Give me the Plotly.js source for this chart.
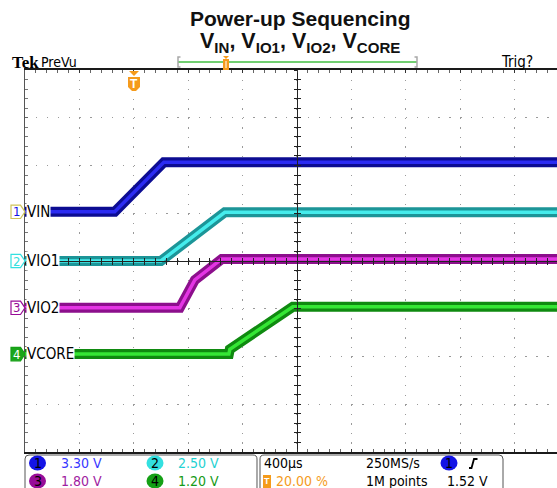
<!DOCTYPE html>
<html><head><meta charset="utf-8">
<script src="https://cdn.plot.ly/plotly-3.0.1.min.js"></script>
<style>html,body{margin:0;padding:0;background:#fff}#chart{width:557px;height:488px}</style>
</head><body><div id="chart"></div>
<script>
// ---- data (time in µs, trigger at t = 0; values in volts) ----
const timeVIN   = [-800, -140, 221, 3200];
const voltVIN   = [0, 0, 3.42, 3.42];
const timeVIO1  = [-800, 199, 669, 3200];
const voltVIO1  = [0, 0, 2.55, 2.55];
const timeVIO2  = [-800, 338, 449, 647, 3200];
const voltVIO2  = [0, 0, 1.05, 1.84, 1.84];
const timeVCORE = [-800, 699, 706, 1169, 3200];
const voltVCORE = [0, 0, 0.12, 1.19, 1.19];

const channelNames = ['VIN', 'VIO1', 'VIO2', 'VCORE'];
const channelNums  = ['1', '2', '3', '4'];
const voltsPerDiv  = [3.30, 2.50, 1.80, 1.20];
const scaleLabels  = ['3.30 V', '2.50 V', '1.80 V', '1.20 V'];
const positionDiv  = [1.03, 0, -0.98, -1.95];
const timePerDiv   = 400;           // µs/div
const triggerPct   = 20.00;         // %
const timeLabel    = '400µs';
const rateLabel    = '250MS/s';
const pointsLabel  = '1M points';
const trigLevel    = '1.52 V';
const triggerText  = '20.00 %';

// ---- styles ----
const outerCol = ['#0c0c92', '#1c9598', '#8c0f8c', '#0f8a10'];
const innerCol = ['#2b2bf2', '#45ecec', '#e435e4', '#35e635'];
const textCol  = ['#3838ff', '#1fd2d2', '#a01ca0', '#169a16'];
const dotCol   = ['#1414e6', '#33e0e0', '#980c98', '#15a015'];
const ORANGE = '#f59b1c';
const NARROW = '"Liberation Sans Narrow","Arial Narrow","DejaVu Sans Condensed",sans-serif';
const SANS = '"Liberation Sans",Arial,sans-serif';

const series = [[timeVIN, voltVIN], [timeVIO1, voltVIO1], [timeVIO2, voltVIO2], [timeVCORE, voltVCORE]];

// plot area in pixels
const L = 25, T = 70, W = 532, H = 382;
const px = x => (x - L) / W;
const py = y => (T + H - y) / H;
const divs = 10, vdivs = 8;
const xStart = -triggerPct / 100 * divs * timePerDiv;          // -800
const xRange = [xStart, xStart + W / 54.4 * timePerDiv];
const xCenter = xStart + divs / 2 * timePerDiv;

const traces = [];
traces.push({x: [], y: [], xaxis: 'x', yaxis: 'y', type: 'scatter', mode: 'lines', hoverinfo: 'skip', showlegend: false});
series.forEach((s, i) => {
  const ya = 'y' + (i + 2);
  traces.push({x: s[0], y: s[1], xaxis: 'x', yaxis: ya, type: 'scatter', mode: 'lines',
    line: {color: outerCol[i], width: 10}, hoverinfo: 'skip', showlegend: false});
  traces.push({x: s[0], y: s[1], xaxis: 'x', yaxis: ya, type: 'scatter', mode: 'lines',
    line: {color: innerCol[i], width: 3.5}, hoverinfo: 'skip', showlegend: false});
});
// empty traces so the crosshair axes get drawn
[['x2', 'y'], ['x3', 'y'], ['x', 'y6'], ['x', 'y7']].forEach(p =>
  traces.push({x: [], y: [], xaxis: p[0], yaxis: p[1], type: 'scatter', mode: 'lines', hoverinfo: 'skip', showlegend: false}));

const layout = {
  width: 557, height: 488,
  margin: {l: L, r: 0, t: T, b: 488 - T - H, pad: 0},
  paper_bgcolor: '#ffffff', plot_bgcolor: '#ffffff',
  showlegend: false,
  font: {family: NARROW, size: 14, color: '#000'},
  xaxis: {range: xRange, autorange: false, fixedrange: true, zeroline: false,
    showgrid: true, gridcolor: '#9a9a9a', gridwidth: 1.3, griddash: '1.3px,8.25px',
    tick0: xStart, dtick: timePerDiv, ticks: 'inside', ticklen: 3, tickcolor: '#333', tickwidth: 1,
    minor: {dtick: timePerDiv / 5, tick0: xStart, ticks: 'inside', ticklen: 3, tickcolor: '#666', showgrid: false},
    showticklabels: false, showline: true, linecolor: '#1a1a1a', linewidth: 2, mirror: 'ticks'},
  yaxis: {range: [-vdivs / 2, vdivs / 2], autorange: false, fixedrange: true, zeroline: false,
    showgrid: true, gridcolor: '#9a9a9a', gridwidth: 1.3, griddash: '1.3px,9.58px',
    tick0: 0, dtick: 1, ticks: 'inside', ticklen: 3, tickcolor: '#666',
    minor: {dtick: 0.2, ticks: 'inside', ticklen: 3, tickcolor: '#777', showgrid: false},
    showticklabels: false, showline: true, linecolor: '#555', linewidth: 1.5, mirror: false},
  xaxis2: {overlaying: 'x', anchor: 'free', position: 0.5, range: xRange, autorange: false,
    showgrid: false, zeroline: false, showticklabels: false, showline: true, linecolor: '#222', linewidth: 1,
    tick0: xStart, dtick: timePerDiv / 5, ticks: 'inside', ticklen: 3, tickcolor: '#222', layer: 'above traces'},
  xaxis3: {overlaying: 'x', anchor: 'free', position: 0.5, range: xRange, autorange: false,
    showgrid: false, zeroline: false, showticklabels: false, showline: false,
    tick0: xStart, dtick: timePerDiv / 5, ticks: 'outside', ticklen: 3, tickcolor: '#222', layer: 'above traces'},
  yaxis6: {overlaying: 'y', anchor: 'free', position: (xCenter - xRange[0]) / (xRange[1] - xRange[0]),
    range: [-vdivs / 2, vdivs / 2], autorange: false, showgrid: false, zeroline: false, showticklabels: false,
    showline: true, linecolor: '#222', linewidth: 1, tick0: 0, dtick: 0.2, ticks: 'inside', ticklen: 3,
    tickcolor: '#222', layer: 'above traces'},
  yaxis7: {overlaying: 'y', anchor: 'free', position: (xCenter - xRange[0]) / (xRange[1] - xRange[0]),
    range: [-vdivs / 2, vdivs / 2], autorange: false, showgrid: false, zeroline: false, showticklabels: false,
    showline: false, tick0: 0, dtick: 0.2, ticks: 'outside', ticklen: 3, tickcolor: '#222', layer: 'above traces'},
  shapes: [], annotations: []
};
// per-channel voltage axes (volts/div and position)
for (let i = 0; i < 4; i++) {
  layout['yaxis' + (i + 2)] = {overlaying: 'y', visible: false, autorange: false, fixedrange: true,
    range: [(-vdivs / 2 - positionDiv[i]) * voltsPerDiv[i], (vdivs / 2 - positionDiv[i]) * voltsPerDiv[i]]};
}

const S = layout.shapes, A = layout.annotations;
const pathPx = pts => pts.map((p, k) => (k ? 'L' : 'M') + px(p[0]).toFixed(5) + ',' + py(p[1]).toFixed(5)).join(' ');
const note = (x, y, text, font, anchor, extra) => A.push(Object.assign({xref: 'paper', yref: 'paper', x: px(x), y: py(y),
  xanchor: anchor || 'left', yanchor: 'middle', showarrow: false, text: text, font: font}, extra || {}));

// title
note(300, 18.5, '<b>Power-up Sequencing</b>', {family: SANS, size: 21, color: '#111'}, 'center');
note(300, 43, '<b>V<sub>IN</sub>, V<sub>IO1</sub>, V<sub>IO2</sub>, V<sub>CORE</sub></b>', {family: SANS, size: 21.5, color: '#111'}, 'center');

// header line
note(10, 62.5, '<b>Tek</b>', {family: '"Liberation Serif","Times New Roman",serif', size: 17, color: '#000'});
note(39, 62, 'PreVu', {family: NARROW, size: 14, color: '#000'});
note(499, 62, 'Trig?', {family: NARROW, size: 15, color: '#000'});
// record bar
S.push({type: 'line', xref: 'paper', yref: 'paper', x0: px(178), x1: px(417), y0: py(62), y1: py(62), line: {color: '#72cf72', width: 2}});
S.push({type: 'path', xref: 'paper', yref: 'paper', path: pathPx([[180.5, 57], [178, 57], [178, 67], [180.5, 67]]), line: {color: '#a8a8a8', width: 1.5}});
S.push({type: 'path', xref: 'paper', yref: 'paper', path: pathPx([[414.5, 57], [417, 57], [417, 67], [414.5, 67]]), line: {color: '#a8a8a8', width: 1.5}});
S.push({type: 'path', xref: 'paper', yref: 'paper', path: pathPx([[223, 56], [229, 56], [226, 59]]) + ' Z', fillcolor: ORANGE, line: {width: 0}});
S.push({type: 'rect', xref: 'paper', yref: 'paper', x0: px(223), x1: px(229), y0: py(59), y1: py(70), fillcolor: ORANGE, line: {width: 0}});
S.push({type: 'line', xref: 'paper', yref: 'paper', x0: px(226), x1: px(226), y0: py(61), y1: py(68), line: {color: '#fff', width: 1}});

// trigger position marker
S.push({type: 'path', xref: 'paper', yref: 'paper', path: pathPx([[129, 71], [139, 71], [134, 76]]) + ' Z', fillcolor: ORANGE, line: {width: 0}});
S.push({type: 'path', xref: 'paper', yref: 'paper',
  path: pathPx([[128, 77], [140, 77], [140, 87], [136, 91], [132, 91], [128, 87]]) + ' Z', fillcolor: ORANGE, line: {width: 0}});
note(134, 84, '<b>T</b>', {family: SANS, size: 12, color: '#fff'}, 'center');

// channel markers & labels
for (let i = 0; i < 4; i++) {
  const yp = positionDiv[i];
  const d = 0.14, x1 = px(11), x2 = px(20.5), x3 = px(25);
  S.push({type: 'path', xref: 'paper', yref: 'y',
    path: `M${x1},${yp - d} L${x2},${yp - d} L${x3},${yp} L${x2},${yp + d} L${x1},${yp + d} Z`,
    fillcolor: i === 3 ? '#1aa51a' : '#ffffff', line: {color: i === 0 ? '#cfc35a' : dotCol[i], width: 1.2}});
  A.push({xref: 'paper', yref: 'y', x: px(16.5), y: yp, xanchor: 'center', yanchor: 'middle', showarrow: false,
    text: channelNums[i], font: {family: NARROW, size: 13, color: i === 3 ? '#ffffff' : dotCol[i]}});
  A.push({xref: 'paper', yref: 'y', x: px(26), y: yp, xanchor: 'left', yanchor: 'middle', showarrow: false,
    text: channelNames[i], bgcolor: '#ffffff', borderpad: 0, font: {family: NARROW, size: 15, color: '#000'}});
}

// bottom panels
const panel = (a, b) => pathPx([[a, 492], [a, 459]]) + ` Q${px(a)},${py(455)} ${px(a + 4)},${py(455)} ` +
  pathPx([[b - 4, 455]]).replace('M', 'L') + ` Q${px(b)},${py(455)} ${px(b)},${py(459)} ` + pathPx([[b, 492]]).replace('M', 'L');
S.push({type: 'path', xref: 'paper', yref: 'paper', path: panel(25, 257), line: {color: '#555', width: 1}});
S.push({type: 'path', xref: 'paper', yref: 'paper', path: panel(260, 503), line: {color: '#555', width: 1}});

const rowY = [463, 481];
const colX = [[37.5, 59], [155, 176]];
for (let i = 0; i < 4; i++) {
  const row = (i === 0 || i === 1) ? 0 : 1;
  const col = (i === 0 || i === 2) ? 0 : 1;
  const cx = colX[col][0], cy = rowY[row];
  S.push({type: 'circle', xref: 'paper', yref: 'paper', x0: px(cx - 8.5), x1: px(cx + 8.5), y0: py(cy - 7.5), y1: py(cy + 7.5),
    fillcolor: dotCol[i], line: {width: 0}});
  note(cx, cy, channelNums[i], {family: NARROW, size: 14, color: '#000'}, 'center');
  note(colX[col][1], cy, scaleLabels[i], {family: NARROW, size: 14, color: textCol[i]});
}
note(262, 463, timeLabel, {family: NARROW, size: 14, color: '#000'});
note(364, 463, rateLabel, {family: NARROW, size: 14, color: '#000'});
S.push({type: 'circle', xref: 'paper', yref: 'paper', x0: px(440.5), x1: px(457.5), y0: py(455.5), y1: py(470.5), fillcolor: dotCol[0], line: {width: 0}});
note(449, 463, '1', {family: NARROW, size: 14, color: '#000'}, 'center');
S.push({type: 'path', xref: 'paper', yref: 'paper', path: pathPx([[469, 468], [471.5, 468], [474, 459], [477.5, 459]]), line: {color: '#000', width: 1.8}});
// row 2 right panel
S.push({type: 'rect', xref: 'paper', yref: 'paper', x0: px(263), x1: px(271), y0: py(475), y1: py(488), fillcolor: ORANGE, line: {width: 0}});
note(267, 481, '<b>T</b>', {family: SANS, size: 9, color: '#fff'}, 'center');
note(274, 481, triggerText, {family: NARROW, size: 14, color: ORANGE});
note(364, 481, pointsLabel, {family: NARROW, size: 14, color: '#000'});
note(445, 481, trigLevel, {family: NARROW, size: 14, color: '#000'});

Plotly.newPlot('chart', traces, layout, {displayModeBar: false, staticPlot: true});
</script>
</body></html>
